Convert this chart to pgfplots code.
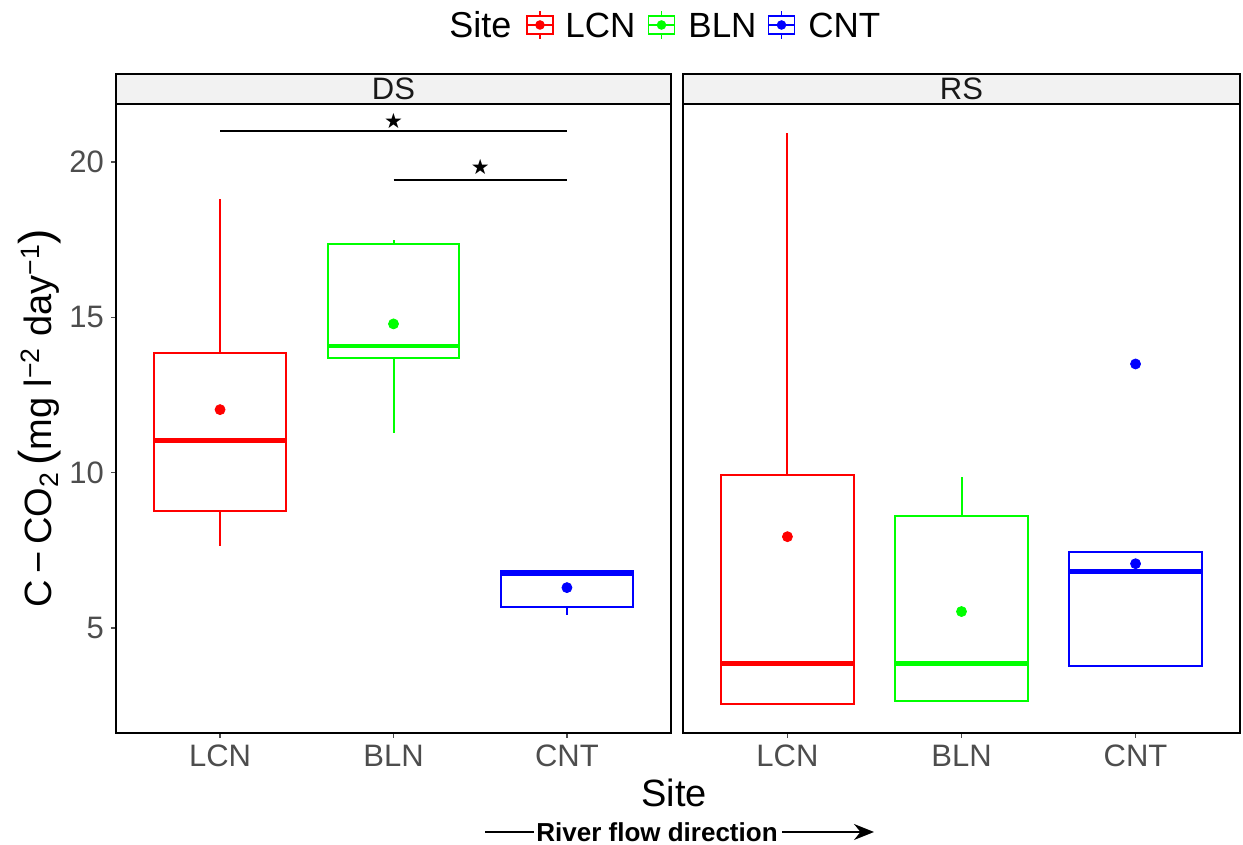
\documentclass[border=0pt]{standalone}
\usepackage{pgfplots}
\pgfplotsset{compat=1.18}
\usepgfplotslibrary{statistics}
\usetikzlibrary{arrows.meta}
\usepackage{fontspec}
\setmainfont{Liberation Sans}
\newfontfamily\symfont{DejaVu Sans}
\definecolor{tickgrey}{HTML}{4D4D4D}
\definecolor{stripgrey}{HTML}{F2F2F2}
\definecolor{ggred}{HTML}{FF0000}
\definecolor{gggreen}{HTML}{00FF00}
\definecolor{ggblue}{HTML}{0000FF}
\newcommand\legicon[3]{%
  \draw[#3, line width=0.9pt] ({#1},{#2+4.5}) -- ({#1},{#2+7}) ({#1},{#2-4.5}) -- ({#1},{#2-7});
  \draw[#3, line width=0.9pt] ({#1-6.5},{#2-4.5}) rectangle ({#1+6.5},{#2+4.5});
  \draw[#3, line width=0.9pt] ({#1-6.5},{#2}) -- ({#1+6.5},{#2});
  \fill[#3] ({#1},{#2}) circle (2.4);
}
\begin{document}
\begin{tikzpicture}
\useasboundingbox (0pt,0pt) rectangle (621.5pt,422.5pt);
\pgfplotsset{
  panel/.style={
    anchor=south west, scale only axis, height=314.5pt,
    xmin=0.4, xmax=3.6, ymin=1.62, ymax=21.87,
    axis line style={black, line width=1pt},
    xtick={1,2,3}, xticklabels={LCN,BLN,CNT},
    xtick pos=bottom, ytick pos=left,
    tick align=outside, major tick length=2.5pt,
    tick style={tickgrey, line width=0.6pt},
    tick label style={font=\fontsize{15.5}{18}\selectfont, text=tickgrey},
    /pgf/number format/assume math mode=true,
    boxplot/draw direction=y,
    boxplot/every median/.style={line width=2.3pt},
    clip=false,
  },
}
% ---------- DS panel ----------
\begin{axis}[panel, at={(58pt,56pt)}, width=277.5pt, ytick={5,10,15,20}]
\addplot[ggred, line width=1pt, boxplot prepared={draw position=1, lower whisker=7.65, lower quartile=8.78, median=11.03, upper quartile=13.86, upper whisker=18.81, box extend=0.76, whisker extend=0}] coordinates {};
\addplot[gggreen, line width=1pt, boxplot prepared={draw position=2, lower whisker=11.29, lower quartile=13.70, median=14.08, upper quartile=17.36, upper whisker=17.49, box extend=0.76, whisker extend=0}] coordinates {};
\addplot[ggblue, line width=1pt, boxplot prepared={draw position=3, lower whisker=5.43, lower quartile=5.69, median=6.76, upper quartile=6.82, upper whisker=6.82, box extend=0.76, whisker extend=0}] coordinates {};
\addplot[only marks, mark=*, mark size=2.5pt, ggred] coordinates {(1,12.03)};
\addplot[only marks, mark=*, mark size=2.5pt, gggreen] coordinates {(2,14.79)};
\addplot[only marks, mark=*, mark size=2.5pt, ggblue] coordinates {(3,6.30)};
% significance
\addplot[black, line width=0.6pt] coordinates {(1,21.0) (3,21.0)};
\addplot[black, line width=0.6pt] coordinates {(2,19.42) (3,19.42)};
\addplot[only marks, mark=text, text mark={\symfont\fontsize{10.5}{10.5}\selectfont ★}] coordinates {(2,21.32) (2.5,19.84)};
\end{axis}
% ---------- RS panel ----------
\begin{axis}[panel, at={(341.5pt,56pt)}, width=278.5pt, ytick=\empty]
\addplot[ggred, line width=1pt, boxplot prepared={draw position=1, lower whisker=2.54, lower quartile=2.54, median=3.86, upper quartile=9.94, upper whisker=20.93, box extend=0.76, whisker extend=0}] coordinates {};
\addplot[gggreen, line width=1pt, boxplot prepared={draw position=2, lower whisker=2.64, lower quartile=2.64, median=3.86, upper quartile=8.59, upper whisker=9.87, box extend=0.76, whisker extend=0}] coordinates {};
\addplot[ggblue, line width=1pt, boxplot prepared={draw position=3, lower whisker=3.79, lower quartile=3.79, median=6.82, upper quartile=7.46, upper whisker=7.46, box extend=0.76, whisker extend=0}] coordinates {};
\addplot[only marks, mark=*, mark size=2.5pt, ggred] coordinates {(1,7.94)};
\addplot[only marks, mark=*, mark size=2.5pt, gggreen] coordinates {(2,5.53)};
\addplot[only marks, mark=*, mark size=2.5pt, ggblue] coordinates {(3,7.07) (3,13.50)};
\end{axis}
\begin{scope}[x=1pt,y=1pt]
% ---------- strips ----------
\draw[black, line width=1pt, fill=stripgrey] (58,370.5) rectangle (335.5,385.5);
\draw[black, line width=1pt, fill=stripgrey] (341.5,370.5) rectangle (620,385.5);
\node[font=\fontsize{15.5}{18}\selectfont, text=black!90, inner sep=0] at (196.75,378) {DS};
\node[font=\fontsize{15.5}{18}\selectfont, text=black!90, inner sep=0] at (480.75,378) {RS};
% ---------- legend ----------
\node[anchor=west, inner sep=0, font=\fontsize{18}{20}\selectfont] at (224.5,410) {Site};
\legicon{270}{410}{ggred}
\node[anchor=west, inner sep=0, font=\fontsize{17.5}{20}\selectfont] at (282.5,410) {LCN};
\legicon{330.75}{410}{gggreen}
\node[anchor=west, inner sep=0, font=\fontsize{17.5}{20}\selectfont] at (344,410) {BLN};
\legicon{390.75}{410}{ggblue}
\node[anchor=west, inner sep=0, font=\fontsize{17.5}{20}\selectfont] at (404,410) {CNT};
% ---------- axis titles ----------
\node[rotate=90, inner sep=0, font=\fontsize{19}{22}\selectfont] at (20,213.5) {C\,−\,CO\textsubscript{2}\,{\fontsize{23}{23}\selectfont(}mg l\textsuperscript{−2} day\textsuperscript{−1}{\fontsize{23}{23}\selectfont)}};
\node[inner sep=0, font=\fontsize{19}{22}\selectfont] at (337,26) {Site};
\node[inner sep=0, font=\fontsize{13}{15}\selectfont\bfseries, anchor=west] at (268,6.5) {River flow direction};
\draw[black, line width=1pt] (242.5,6.5) -- (267,6.5);
\draw[black, line width=1pt, -{Stealth[length=10pt, width=8pt]}] (391,6.5) -- (437,6.5);
\end{scope}
\end{tikzpicture}
\end{document}
